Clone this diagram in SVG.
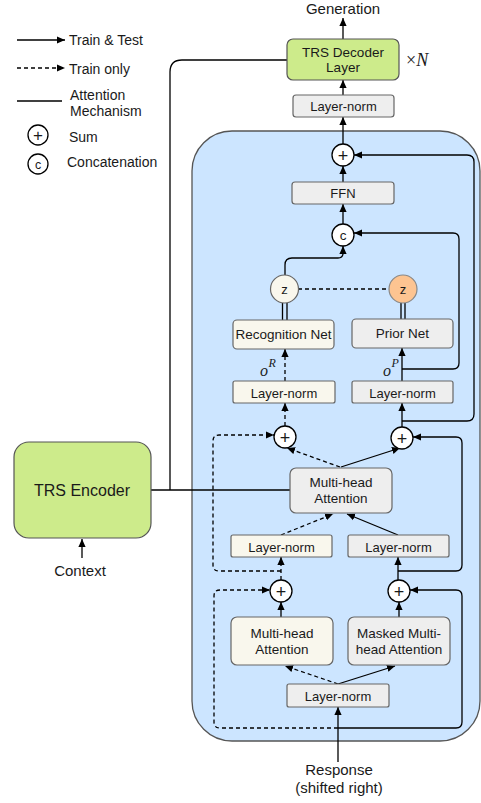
<svg xmlns="http://www.w3.org/2000/svg" width="481" height="803" viewBox="0 0 481 803">
<defs>
<marker id="ah" viewBox="0 0 10 10" refX="10" refY="5" markerWidth="8" markerHeight="8" markerUnits="userSpaceOnUse" orient="auto"><path d="M0,0.5 L10,5 L0,9.5 Z" fill="#000"/></marker>
<style>
text{font-family:"Liberation Sans",Arial,sans-serif;fill:#1a1a1a}
.c{text-anchor:middle}
.ln{fill:none;stroke:#000;stroke-width:1.3}
.ds{stroke-dasharray:4,3}
.ar{marker-end:url(#ah)}
.gray{fill:#eeeeee;stroke:#666;stroke-width:1.2}
.cream{fill:#f9f7ed;stroke:#666;stroke-width:1.2}
.green{fill:#cdeb8b;stroke:#555;stroke-width:1.2}
.circ{fill:#fff;stroke:#000;stroke-width:1.3}
.m{font-family:"Liberation Serif","Times New Roman",serif;font-style:italic}
</style>
</defs>
<rect width="481" height="803" fill="#fff"/>

<!-- big block -->
<g id="block"><rect x="192" y="131" width="288" height="610" rx="40" fill="#cce5ff" stroke="#555" stroke-width="1.3"/></g>

<!-- legend -->
<g id="legend">
<path class="ln ar" d="M17,40 H65"/>
<text x="69" y="45" font-size="14">Train &amp; Test</text>
<path class="ln ds ar" d="M17,68 H65"/>
<text x="69" y="74" font-size="14">Train only</text>
<path class="ln" d="M17,101 H62"/>
<text x="70" y="100" font-size="14">Attention</text>
<text x="70" y="116" font-size="14">Mechanism</text>
<circle class="circ" cx="38" cy="135" r="10"/>
<text class="c" x="38" y="141" font-size="17">+</text>
<text x="69" y="142" font-size="14">Sum</text>
<circle class="circ" cx="38" cy="164" r="10"/>
<text class="c" x="38" y="168.5" font-size="12.5">c</text>
<text x="67" y="167" font-size="14">Concatenation</text>
</g>

<!-- connectors -->
<g id="connectors">
<path class="ln ar" d="M343,39 V18"/>
<path class="ln ar" d="M343,95 V80"/>
<path class="ln ar" d="M343,144 V117"/>
<path class="ln ar" d="M343,182 V166"/>
<path class="ln ar" d="M343,224 V204"/>
<path class="ln ar" d="M285,275 V265 Q285,258 292,258 H338 Q343,258 343,253 V246"/>
<path class="ln ar" d="M402,369 H453 Q459,369 459,363 V239 Q459,233 453,233 H354"/>
<path class="ln ar" d="M402,421 H467 Q474,421 474,414 V162 Q474,155 467,155 H354"/>
<path class="ln ds" d="M298,289 H389"/>
<path class="ln" d="M282.5,303 V320 M287,303 V320"/>
<path class="ln" d="M401,303 V319 M405,303 V319"/>
<path class="ln ds ar" d="M285,381 V349"/>
<path class="ln ar" d="M402,381 V348"/>
<path class="ln ds ar" d="M285,426 V403"/>
<path class="ln ar" d="M402,427 V403"/>
<path class="ln ds ar" d="M340,467 L287,448"/>
<path class="ln ar" d="M341,467 L400,448"/>
<path class="ln ds ar" d="M281,535 L333,514"/>
<path class="ln ar" d="M398,535 L347,514"/>
<path class="ln" d="M151,490 H290"/>
<path class="ln" d="M170,490 V72 Q170,60 182,60 H287"/>
<path class="ln ar" d="M82,558 V539"/>
<path class="ln ds ar" d="M281,571 H219 Q213,571 213,565 V441 Q213,435 219,435 H274"/>
<path class="ln ar" d="M398,571 H456 Q462,571 462,565 V443 Q462,437 456,437 H413"/>
<path class="ln ds ar" d="M281,580 V557"/>
<path class="ln ar" d="M398,580 V557"/>
<path class="ln ar" d="M281,617 V602"/>
<path class="ln ar" d="M399,617 V602"/>
<path class="ln ds ar" d="M338,684 L285,666"/>
<path class="ln ar" d="M338,684 L395,666"/>
<path class="ln ar" d="M338,762 V707"/>
<path class="ln ds ar" d="M338,728 H220 Q214,728 214,722 V596 Q214,590 220,590 H270"/>
<path class="ln ar" d="M338,728 H456 Q462,728 462,722 V596 Q462,590 456,590 H410"/>
</g>

<!-- nodes -->
<g id="generation"><text class="c" x="343" y="14" font-size="15">Generation</text></g>
<g id="decoder">
<rect class="green" x="287" y="39" width="112" height="41" rx="6"/>
<text class="c" x="343" y="57" font-size="13.5">TRS Decoder</text>
<text class="c" x="343" y="72" font-size="13.5">Layer</text>
</g>
<g id="timesN"><text x="406" y="66" font-size="18" class="m"><tspan font-style="normal">×</tspan>N</text></g>
<g id="ln-top"><rect class="gray" x="293" y="95" width="101" height="22" rx="3"/><text class="c" x="343.5" y="111" font-size="13">Layer-norm</text></g>
<g id="sum-top"><circle class="circ" cx="343" cy="155" r="11"/><text class="c" x="343" y="161.5" font-size="18">+</text></g>
<g id="ffn"><rect class="gray" x="292" y="182" width="102" height="22" rx="3"/><text class="c" x="343" y="198" font-size="13">FFN</text></g>
<g id="concat"><circle class="circ" cx="343" cy="235" r="11"/><text class="c" x="343" y="239.5" font-size="13.5">c</text></g>
<g id="z-rec"><circle cx="284.5" cy="289" r="14" fill="#f9f7ed" stroke="#666" stroke-width="1.2"/><text class="c" x="284.5" y="293.5" font-size="13">z</text></g>
<g id="z-prior"><circle cx="403" cy="289" r="14" fill="#fdc491" stroke="#888" stroke-width="1.2"/><text class="c" x="403" y="293.5" font-size="13">z</text></g>
<g id="recnet"><rect class="cream" x="233" y="320" width="101" height="29" rx="4"/><text class="c" x="283.5" y="338.5" font-size="13.5">Recognition Net</text></g>
<g id="priornet"><rect class="gray" x="352" y="319" width="101" height="29" rx="4"/><text class="c" x="402.5" y="338" font-size="13.5">Prior Net</text></g>
<g id="oR"><text x="260" y="376" font-size="16" class="m">o</text><text x="268.5" y="367" font-size="12" class="m">R</text></g>
<g id="oP"><text x="383" y="376" font-size="16" class="m">o</text><text x="391.5" y="367" font-size="12" class="m">P</text></g>
<g id="ln-rec"><rect class="cream" x="233" y="381" width="102" height="22" rx="2"/><text class="c" x="284" y="397.5" font-size="13">Layer-norm</text></g>
<g id="ln-prior"><rect class="gray" x="352" y="381" width="101" height="22" rx="2"/><text class="c" x="402.5" y="397.5" font-size="13">Layer-norm</text></g>
<g id="sum-mid-l"><circle class="circ" cx="285" cy="437" r="11"/><text class="c" x="285" y="443.5" font-size="18">+</text></g>
<g id="sum-mid-r"><circle class="circ" cx="402" cy="438" r="11"/><text class="c" x="402" y="444.5" font-size="18">+</text></g>
<g id="encoder"><rect class="green" x="14" y="442" width="137" height="96" rx="15"/><text class="c" x="82" y="496" font-size="16">TRS Encoder</text></g>
<g id="context"><text class="c" x="80" y="576" font-size="15">Context</text></g>
<g id="mha-mid"><rect class="gray" x="290" y="468" width="102" height="45" rx="6"/><text class="c" x="341" y="487" font-size="13.5">Multi-head</text><text class="c" x="341" y="503" font-size="13.5">Attention</text></g>
<g id="ln-mid-l"><rect class="cream" x="231" y="535" width="101" height="22" rx="2"/><text class="c" x="281.5" y="551.5" font-size="13">Layer-norm</text></g>
<g id="ln-mid-r"><rect class="gray" x="348" y="535" width="101" height="22" rx="2"/><text class="c" x="398.5" y="551.5" font-size="13">Layer-norm</text></g>
<g id="sum-low-l"><circle class="circ" cx="281" cy="591" r="11"/><text class="c" x="281" y="597.5" font-size="18">+</text></g>
<g id="sum-low-r"><circle class="circ" cx="399" cy="591" r="11"/><text class="c" x="399" y="597.5" font-size="18">+</text></g>
<g id="mha-low"><rect class="cream" x="231" y="617" width="102" height="48" rx="6"/><text class="c" x="282" y="638" font-size="13.5">Multi-head</text><text class="c" x="282" y="653.5" font-size="13.5">Attention</text></g>
<g id="masked"><rect class="gray" x="348" y="617" width="102" height="48" rx="6"/><text class="c" x="399" y="638" font-size="13.5">Masked Multi-</text><text class="c" x="399" y="653.5" font-size="13.5">head Attention</text></g>
<g id="ln-low"><rect class="gray" x="287" y="684" width="102" height="23" rx="2"/><text class="c" x="338" y="700.5" font-size="13">Layer-norm</text></g>
<g id="response"><text class="c" x="339" y="775" font-size="15">Response</text><text class="c" x="339" y="793" font-size="15">(shifted right)</text></g>
</svg>
